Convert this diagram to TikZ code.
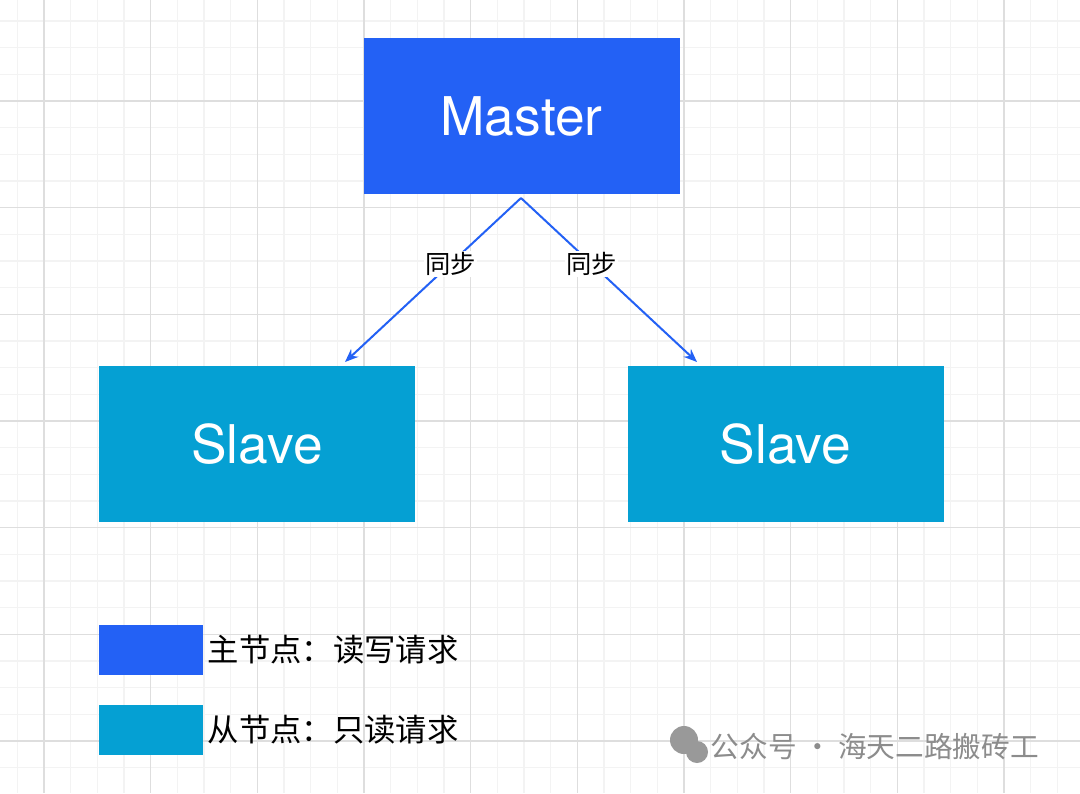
\documentclass[tikz,border=0pt]{standalone}
\usepackage{fontspec}
\setmainfont{TeX Gyre Heros}
\newfontfamily\cjk{Noto Sans CJK SC}
\usetikzlibrary{arrows.meta}
\definecolor{masterblue}{HTML}{2361F5}
\definecolor{slaveblue}{HTML}{05A0D3}
\definecolor{gridminor}{HTML}{F3F3F3}
\definecolor{gridmajor}{HTML}{DEDEDE}

\begin{document}
\begin{tikzpicture}[x=0.75pt,y=-0.75pt, >={Stealth[length=10pt,width=8pt]}]
    \tikzstyle{role box}=[minimum width=237pt, minimum height=117pt, inner sep=0pt, text=white, font=\fontsize{40}{44}\selectfont]
    \tikzstyle{master box}=[role box, fill=masterblue]
    \tikzstyle{slave box}=[role box, fill=slaveblue]
    \tikzstyle{key box}=[minimum width=78pt, minimum height=37.5pt, inner sep=0pt]
    \tikzstyle{key text}=[anchor=west, font=\cjk\fontsize{23.5}{26}\selectfont]
    \tikzstyle{sync}=[->, draw=masterblue, line width=1.5pt]
    \tikzstyle{sync label}=[fill=white, inner sep=1pt, font=\cjk\fontsize{19}{22}\selectfont]

    \useasboundingbox (0,0) rectangle (1080,793);
    \fill[white] (0,0) rectangle (1080,793);

    % Draw the grid
    \foreach \k in {-1,...,40}
        \draw[gridminor, line width=0.9pt] ({44+26.667*\k},0) -- ({44+26.667*\k},793);
    \foreach \k in {-3,...,30}
        \draw[gridminor, line width=0.9pt] (0,{101+26.667*\k}) -- (1080,{101+26.667*\k});
    \foreach \k in {0,...,9}
        \draw[gridmajor, line width=0.9pt] ({44+106.667*\k},0) -- ({44+106.667*\k},793);
    \foreach \k in {-1,...,7}
        \draw[gridmajor, line width=0.9pt] (0,{101+106.667*\k}) -- (1080,{101+106.667*\k});

    % Draw the nodes
    \node[master box] (master) at (521.5,116) {Master};
    \node[slave box] (slave-1) at (257,444) {Slave};
    \node[slave box] (slave-2) at (785.5,444) {Slave};

    % Connect master with the slaves
    \coordinate (tap) at (521,198);
    \draw[sync] (tap) -- node[sync label, pos=0.4] {同步} (345,362);
    \draw[sync] (tap) -- node[sync label, pos=0.4] {同步} (697,362);

    % Legend
    \node[key box, fill=masterblue] (key-1) at (151,650) {};
    \node[key box, fill=slaveblue] (key-2) at (151,730) {};
    \node[key text] at (key-1.east) {主节点：读写请求};
    \node[key text] at (key-2.east) {从节点：只读请求};

    % Watermark
    \fill[black!40] (684,740) circle (14);
    \fill[black!40] (697,752) circle (11);
    \node[anchor=west, text=black!45, font=\cjk\fontsize{21.5}{24}\selectfont] (mark) at (706,747) {公众号 · 海天二路搬砖工};
\end{tikzpicture}
\end{document}
